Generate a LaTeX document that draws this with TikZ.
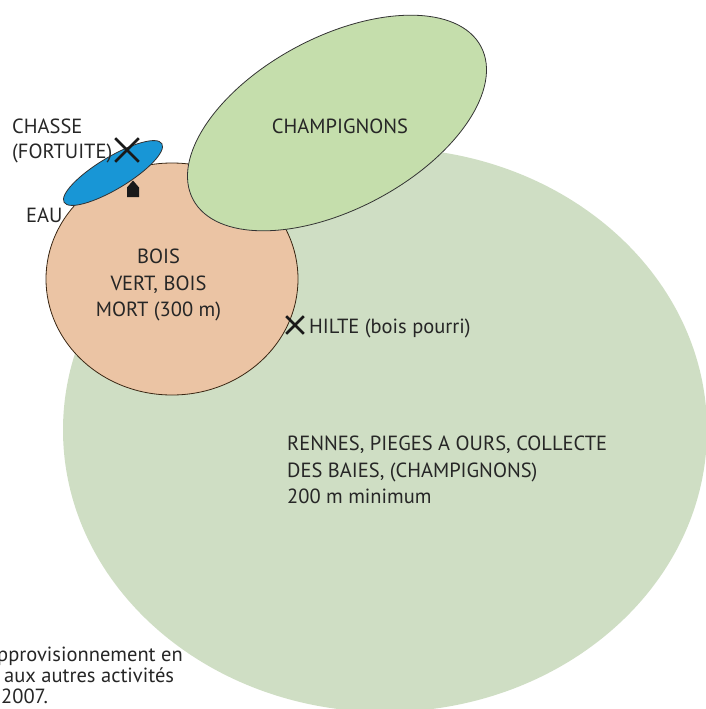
\documentclass[tikz,border=0pt]{standalone}
\usepackage{fontspec}
\setmainfont{PT Sans}
\usetikzlibrary{shapes.geometric,shapes.misc}

\definecolor{zonegreen}{RGB}{207,222,196}
\definecolor{champgreen}{RGB}{197,222,172}
\definecolor{boispeach}{RGB}{235,196,164}
\definecolor{eaublue}{RGB}{24,150,214}

\begin{document}
\begin{tikzpicture}[x=1pt, y=-1pt,
    zone/.style={ellipse, inner sep=0pt, outer sep=0pt},
    lbl/.style={inner sep=0pt, text=black!85, font=\fontsize{20.5}{26.5}\selectfont},
    crossmark/.style={cross out, draw=black!90, line width=2.6pt, minimum size=#1, inner sep=0pt}]

    \useasboundingbox (0,0) rectangle (705,709);

        % Zones
        \node[zone, fill=zonegreen, minimum width=644pt, minimum height=564pt] (rennes) at (385,430) {};
        \node[zone, fill=boispeach, draw=black!70!brown, line width=0.8pt,
              minimum width=252pt, minimum height=232pt] (bois) at (172,279) {};
        \node[zone, fill=champgreen, draw=black!80, line width=0.8pt,
              minimum width=326pt, minimum height=172pt, rotate=28] (champ) at (337,123) {};
        \node[zone, fill=eaublue, draw=black!80, line width=0.8pt,
              minimum width=114pt, minimum height=32pt, rotate=31] (eau) at (113,173) {};

        % Marks
        \node[crossmark=21pt] (chasseX) at (127,150) {};
        \node[crossmark=15pt] (hilteX) at (295,325) {};
        \fill[black!90] (127,197) -- (127,187.5) -- (133,180.5) -- (139,187.5) -- (139,197) -- cycle;

        % Labels
        \node[lbl, anchor=base west] (chasse) at (12,133) {CHASSE};
        \node[lbl, anchor=base west] (fortuite) at (12,158) {(FORTUITE)};
        \node[lbl, anchor=base west] (eaulbl) at (26,222) {EAU};
        \node[lbl, anchor=base] (champlbl) at (340,133) {CHAMPIGNONS};
        \node[lbl, align=center] (boislbl) at (158.5,285) {BOIS\\VERT, BOIS\\MORT (300 m)};
        \node[lbl, anchor=base west] (hiltelbl) at (309,333) {HILTE (bois pourri)};
        \node[lbl, align=left, anchor=west] (rennelbl) at (287,470)
            {RENNES, PIEGES A OURS, COLLECTE\\DES BAIES, (CHAMPIGNONS)\\200 m minimum};
        \node[lbl, anchor=base west] (note1) at (-3,661) {pprovisionnement en};
        \node[lbl, anchor=base west] (note2) at (4,682) {aux autres activités};
        \node[lbl, anchor=base west] (note3) at (1,703) {2007.};

\end{tikzpicture}
\end{document}
